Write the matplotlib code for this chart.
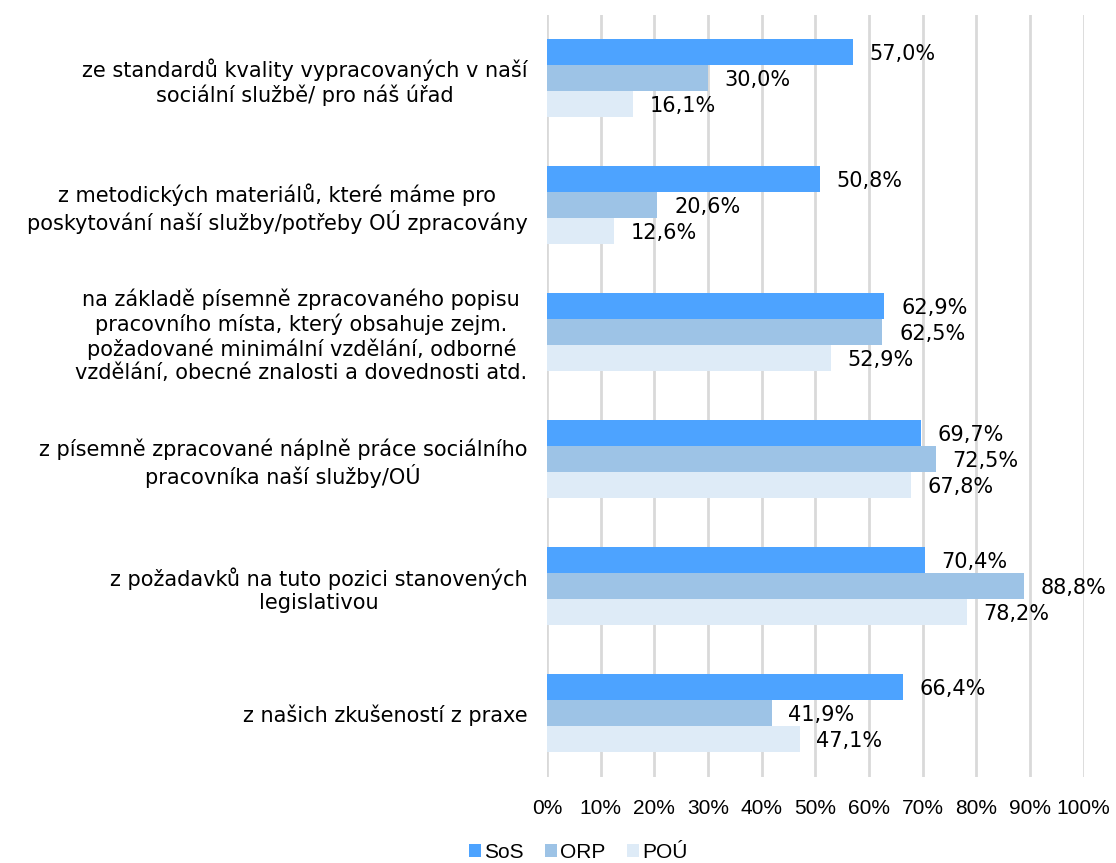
import numpy as np
import matplotlib.pyplot as plt

categories = [
    'ze standardů kvality vypracovaných v naší\nsociální službě/ pro náš úřad',
    'z metodických materiálů, které máme pro\nposkytování naší služby/potřeby OÚ zpracovány',
    'na základě písemně zpracovaného popisu\npracovního místa, který obsahuje zejm.\npožadované minimální vzdělání, odborné\nvzdělání, obecné znalosti a dovednosti atd.',
    'z písemně zpracované náplně práce sociálního\npracovníka naší služby/OÚ',
    'z požadavků na tuto pozici stanovených\nlegislativou',
    'z našich zkušeností z praxe',
]
series_names = ['SoS', 'ORP', 'POÚ']
sos = [57.0, 50.8, 62.9, 69.7, 70.4, 66.4]
orp = [30.0, 20.6, 62.5, 72.5, 88.8, 41.9]
pou = [16.1, 12.6, 52.9, 67.8, 78.2, 47.1]
tick_labels = ['0%', '10%', '20%', '30%', '40%', '50%', '60%', '70%', '80%', '90%', '100%']

colors = ['#4da3ff', '#9dc3e6', '#deebf7']

fig = plt.figure(figsize=(11.16, 8.63), dpi=100)
ax = fig.add_axes([0.490, 0.100, 0.481, 0.883])

y = np.arange(len(categories))
h = 0.205
for i, (vals, name, c) in enumerate(zip([sos, orp, pou], series_names, colors)):
    pos = y + (i - 1) * h
    ax.barh(pos, vals, height=h, color=c, label=name, zorder=3)
    for p, v in zip(pos, vals):
        ax.annotate(f'{v:.1f}%'.replace('.', ','), (v, p), xytext=(12, -1),
                    textcoords='offset points', va='center', ha='left', fontsize=15)

ax.set_xlim(0, 100)
ax.set_ylim(len(categories) - 0.5, -0.5)
ax.set_yticks(y)
ax.set_yticklabels(categories, fontsize=15, ha='right', multialignment='center',
                   linespacing=1.2)
ax.tick_params(axis='y', length=0, pad=14)
ax.set_xticks(np.arange(0, 101, 10))
ax.set_xticklabels(tick_labels, fontsize=15, family='Liberation Sans')
ax.tick_params(axis='x', length=0, pad=16)
ax.grid(axis='x', color='#d9d9d9', linewidth=2, zorder=0)
for s in ax.spines.values():
    s.set_visible(False)

ax.legend(loc='center', bbox_to_anchor=(0.518, 0.012), bbox_transform=fig.transFigure,
          ncol=3, frameon=False, prop={'family': 'Liberation Sans', 'size': 15},
          handlelength=0.6, handleheight=0.6, handletextpad=0.15, columnspacing=1.0)

fig.savefig('out.png', dpi=100)
